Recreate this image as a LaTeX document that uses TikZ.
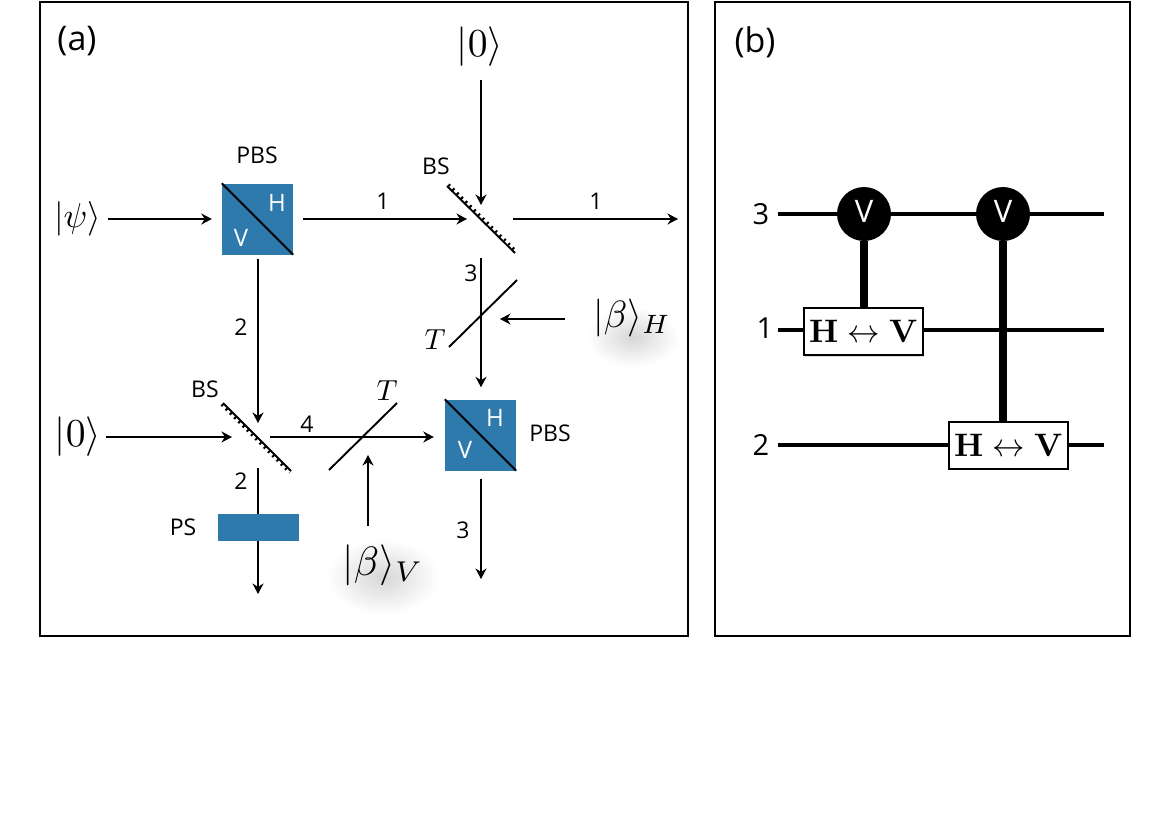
\documentclass[tikz,border=0pt]{standalone}
\usepackage[no-math]{fontspec}
\newfontfamily\labelfont{Open Sans}
\usetikzlibrary{shadows,calc,arrows.meta}
\definecolor{cubeblue}{RGB}{46,122,173}
\tikzset{
	beam/.style={line width=2pt,-{Stealth[length=10.5pt,width=11pt]}},
	mirror/.style={line width=1.9pt},
	cube/.style={fill=cubeblue,minimum size=71pt,inner sep=0pt},
	tag/.style={font=\labelfont\fontsize{23}{26}\selectfont,inner sep=0pt},
	cubetag/.style={font=\labelfont\fontsize{24}{28}\selectfont,text=white,inner sep=0pt},
	ket/.style={scale=3.3,inner sep=0.5pt},
	glow/.style={inner color=black!16,outer color=white},
	wire/.style={line width=4pt},
	ctrl/.style={line width=8pt},
	qlabel/.style={font=\labelfont\fontsize{29}{32}\selectfont},
	dotv/.style={circle,fill=black,minimum size=54pt,inner sep=0pt,text=white,font=\labelfont\fontsize{31}{34}\selectfont},
	swapbox/.style={draw,fill=white,line width=2pt,minimum width=119pt,minimum height=47pt,inner sep=0pt,
		drop shadow={opacity=0.3,shadow xshift=1pt,shadow yshift=-1.5pt}},
}
\begin{document}
\begin{tikzpicture}[>=stealth,x=1pt,y=-1pt]
	\useasboundingbox (0,0) rectangle (1170,827);
	\fill[white] (0,0) rectangle (1170,827);
	% frames
	\draw[line width=2pt] (40,2) rectangle (688,636);
	\draw[line width=2pt] (715,2) rectangle (1130,636);
	\node[font=\labelfont\fontsize{34}{38}\selectfont] (tita) at (77,41) {(a)};
	\node[font=\labelfont\fontsize{34}{38}\selectfont] (titb) at (755,42) {(b)};
	% soft patches under the coherent states
	\shade[glow] (633,337) ellipse (46 and 30);
	\shade[glow] (383,577) ellipse (56 and 38);
	% sources
	\node[ket,scale=1.05] (psi) at (77.5,219) {$|\psi\rangle$};
	\node[ket,scale=1.2] (zeroa) at (480,47) {$|0\rangle$};
	\node[ket,scale=1.2] (zerob) at (78,437) {$|0\rangle$};
	\node[ket,scale=1.15] (betah) at (632,318) {$|\beta\rangle_H$};
	\node[ket,scale=1.24] (betav) at (383,565) {$|\beta\rangle_V$};
	% beam splitters and cross-Kerr mirrors
	\coordinate (bsa) at (481,219);
	\coordinate (bsb) at (258,437);
	\coordinate (ta) at (481,319);
	\coordinate (tb) at (368,437);
	\draw[mirror] (447,186) -- (515,253);
	\draw[line width=2.8pt,dash pattern=on 2pt off 4pt] (448.5,184.5) -- (516.5,251.5);
	\draw[mirror] (223,403) -- (291,471);
	\draw[line width=2.8pt,dash pattern=on 2pt off 4pt] (221.5,404.5) -- (289.5,472.5);
	\draw[mirror] (449,347) -- (517,280);
	\draw[mirror] (329,470) -- (397,403);
	% cubes
	\node[cube] (pbsa) at (257.5,219) {};
	\node[cube] (pbsb) at (480.5,435) {};
	\draw[mirror] (pbsa.north west) -- (pbsa.south east);
	\draw[mirror] (pbsb.north west) -- (pbsb.south east);
	\node[cubetag] (ha) at (277,203) {H};
	\node[cubetag] (va) at (241,238) {V};
	\node[cubetag] (hb) at (495,418) {H};
	\node[cubetag] (vb) at (465,450) {V};
	% beams
	\coordinate (outa) at (678,219);
	\coordinate (outb) at (258,594);
	\coordinate (outc) at (481,579);
	\draw[beam,shorten <=5pt,shorten >=10pt] (psi) -- (pbsa);
	\draw[beam,shorten <=10pt,shorten >=14pt] (zeroa.south-|bsa) -- (bsa);
	\draw[beam,shorten <=10pt,shorten >=14pt] (pbsa) -- (bsa);
	\draw[beam,shorten <=32pt] (bsa) -- (outa);
	\draw[beam,shorten <=39pt,shorten >=12pt] (bsa) -- (bsa|-pbsb.north);
	\draw[beam,shorten <=26pt,shorten >=19pt] (betah.west|-ta) -- (ta);
	\draw[beam,shorten <=4pt,shorten >=14pt] (pbsa.south-|bsb) -- (bsb);
	\draw[beam,shorten <=2pt,shorten >=26pt] (zerob) -- (bsb);
	\draw[beam,shorten <=12pt,shorten >=11pt] (bsb) -- (bsb-|pbsb.west);
	\draw[beam,shorten <=16pt,shorten >=18pt] (tb|-betav.north) -- (tb);
	\draw[beam,shorten <=8pt] (pbsb.south-|outc) -- (outc);
	\draw[beam,shorten <=31pt] (bsb) -- (outb);
	\node[fill=cubeblue,minimum width=81pt,minimum height=27pt,inner sep=0pt] (ps) at (258.5,527.5) {};
	% labels
	\node[tag] (lpbsa) at (257,155) {PBS};
	\node[tag] (lbsa) at (436,166) {BS};
	\node[tag] (lbsb) at (205,389) {BS};
	\node[tag] (lpbsb) at (550,433) {PBS};
	\node[tag] (lps) at (183,527) {PS};
	\node[tag] (na) at (383,201) {1};
	\node[tag] (nb) at (596,201) {1};
	\node[tag] (nc) at (471,273) {3};
	\node[tag] (nd) at (241,327) {2};
	\node[tag] (ne) at (307,424) {4};
	\node[tag] (nf) at (241,481) {2};
	\node[tag] (ng) at (463,530) {3};
	\node[scale=2.9,inner sep=0pt] (tlefta) at (435,340) {$T$};
	\node[scale=2.9,inner sep=0pt] (tleftb) at (387,391) {$T$};
	% circuit
	\coordinate (ina) at (778,214);
	\coordinate (inb) at (778,330);
	\coordinate (inc) at (778,445);
	\coordinate (enda) at (1104,214);
	\coordinate (endb) at (1104,330);
	\coordinate (endc) at (1104,445);
	\draw[wire] (ina) -- (enda);
	\draw[wire] (inb) -- (endb);
	\draw[wire] (inc) -- (endc);
	\node[qlabel] (qa) at (761,214) {3};
	\node[qlabel] (qb) at (765,328) {1};
	\node[qlabel] (qc) at (761,445) {2};
	\node[swapbox] (swapa) at (863.5,331.5) {\scalebox{3.25}{$\mathbf{H}\leftrightarrow\mathbf{V}$}};
	\node[swapbox] (swapb) at (1008.5,445) {\scalebox{3.25}{$\mathbf{H}\leftrightarrow\mathbf{V}$}};
	\node[dotv] (cta) at (864,214) {\raisebox{6pt}{V}};
	\node[dotv] (ctb) at (1003,214) {\raisebox{6pt}{V}};
	\draw[ctrl] (cta) -- (cta|-swapa.north);
	\draw[ctrl] (ctb) -- (ctb|-swapb.north);
\end{tikzpicture}
\end{document}
